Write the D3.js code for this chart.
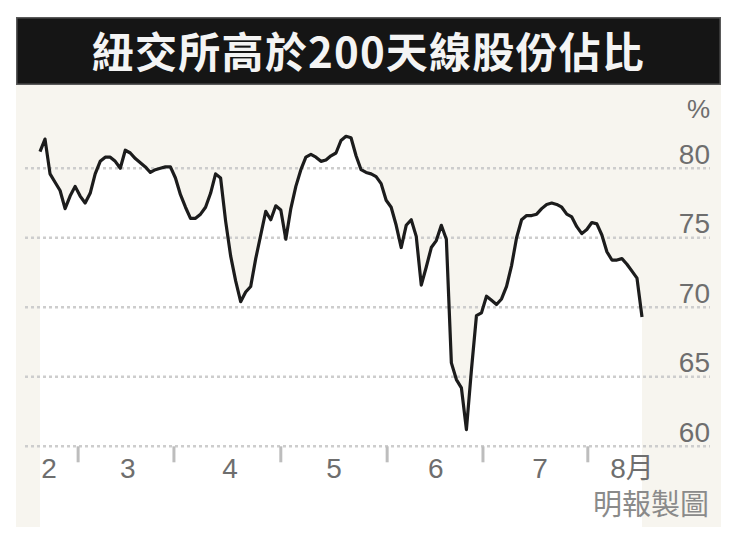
<!DOCTYPE html>
<html>
<head>
<meta charset="utf-8">
<script src="https://cdn.jsdelivr.net/npm/d3@7"></script>
<style>
  html, body { margin: 0; padding: 0; background: #ffffff; }
  svg { display: block; }
</style>
</head>
<body>
<svg id="chart" width="742" height="540"></svg>
<script>
// ---- data ----
const titleText = "紐交所高於200天線股份佔比";
const unitLabel = "%";
const sourceLabel = "明報製圖";
// share of NYSE stocks above their 200-day line (%), one value per trading day
const values = [
  81.2, 82.1, 79.6, 79.0, 78.4, 77.1, 78.0, 78.7, 78.0, 77.5,
  78.2, 79.6, 80.5, 80.8, 80.8, 80.5, 80.0, 81.3, 81.1, 80.7,
  80.4, 80.1, 79.7, 79.9, 80.0, 80.1, 80.1, 79.3, 78.1, 77.2,
  76.4, 76.4, 76.7, 77.2, 78.2, 79.6, 79.3, 76.2, 73.7, 71.9,
  70.4, 71.1, 71.5, 73.5, 75.2, 76.9, 76.3, 77.3, 77.0, 74.9,
  77.1, 78.7, 79.9, 80.8, 81.0, 80.8, 80.5, 80.6, 80.9, 81.1,
  82.0, 82.3, 82.2, 80.9, 79.9, 79.7, 79.6, 79.4, 78.9, 77.7,
  77.2, 75.9, 74.3, 75.9, 76.3, 75.1, 71.6, 72.9, 74.3, 74.8,
  75.9, 74.9, 66.0, 64.8, 64.2, 61.2, 65.5, 69.4, 69.6, 70.8,
  70.5, 70.2, 70.6, 71.5, 73.0, 75.0, 76.3, 76.6, 76.6, 76.7,
  77.1, 77.4, 77.5, 77.4, 77.2, 76.7, 76.5, 75.8, 75.3, 75.6,
  76.1, 76.0, 75.2, 74.0, 73.4, 73.4, 73.5, 73.1, 72.6, 72.1,
  69.3
];
// month boundaries (in trading-day index) and month label positions
const monthTicks = [7.6, 26.7, 48.0, 69.2, 88.3, 109.2];
const monthLabelPos = [1.8, 17.5, 37.9, 58.6, 78.9, 99.7, 118.0];
const monthLabels = ["2", "3", "4", "5", "6", "7", "8月"];
const yTicks = [60, 65, 70, 75, 80];

// ---- layout ----
const W = 742, H = 540;
const panel = { x: 16, y: 85, w: 705, h: 442 };
const bar = { x: 16, y: 17, w: 705, h: 68 };
const plot = { left: 40, right: 642, top: 168.3, bottom: 446.3 };
const gridX0 = 25, gridX1 = 710;

const svg = d3.select("#chart");

const x = d3.scaleLinear().domain([0, values.length - 1]).range([plot.left, plot.right]);
const y = d3.scaleLinear().domain([60, 80]).range([plot.bottom, plot.top]);

// background panel (cream)
svg.append("rect")
  .attr("x", panel.x).attr("y", panel.y)
  .attr("width", panel.w).attr("height", panel.h)
  .attr("fill", "#f7f5ef");

// title bar
svg.append("rect")
  .attr("x", bar.x + 0.75).attr("y", bar.y + 0.75)
  .attr("width", bar.w - 1.5).attr("height", bar.h - 1.5)
  .attr("fill", "#151515")
  .attr("stroke", "#5a5a5a").attr("stroke-width", 1.5);

svg.append("text")
  .attr("x", bar.x + bar.w / 2).attr("y", 68)
  .attr("text-anchor", "middle")
  .attr("font-family", "'Noto Sans CJK TC', 'Noto Sans CJK SC', sans-serif")
  .attr("font-weight", "bold")
  .attr("font-size", 42)
  .attr("letter-spacing", 1.2)
  .attr("fill", "#f4f4f4")
  .text(titleText);

// white area under the line
const area = d3.area()
  .x((d, i) => x(i))
  .y0(panel.y + panel.h)
  .y1(d => y(d));
svg.append("path")
  .datum(values)
  .attr("d", area)
  .attr("fill", "#ffffff");

// dotted gridlines
svg.append("g")
  .selectAll("line")
  .data(yTicks)
  .join("line")
  .attr("x1", gridX0).attr("x2", gridX1)
  .attr("y1", d => y(d)).attr("y2", d => y(d))
  .attr("stroke", "#cdcdcd")
  .attr("stroke-width", 2.5)
  .attr("stroke-dasharray", "3,3");

// y tick labels (right side)
svg.append("g")
  .selectAll("text")
  .data(yTicks)
  .join("text")
  .attr("x", 710)
  .attr("y", d => y(d) - 4.5)
  .attr("text-anchor", "end")
  .attr("font-family", "'Liberation Sans', Arial, sans-serif")
  .attr("font-size", 28)
  .attr("fill", "#6e6e6e")
  .text(d => d);

svg.append("text")
  .attr("x", 710).attr("y", 118)
  .attr("text-anchor", "end")
  .attr("font-family", "'Liberation Sans', Arial, sans-serif")
  .attr("font-size", 26)
  .attr("fill", "#6e6e6e")
  .text(unitLabel);

// month boundary ticks
svg.append("g")
  .selectAll("line")
  .data(monthTicks)
  .join("line")
  .attr("x1", d => x(d)).attr("x2", d => x(d))
  .attr("y1", plot.bottom).attr("y2", plot.bottom + 16)
  .attr("stroke", "#bdbdbd")
  .attr("stroke-width", 3);

// month labels
svg.append("g")
  .selectAll("text")
  .data(monthLabels)
  .join("text")
  .attr("x", (d, i) => x(monthLabelPos[i]))
  .attr("y", 478)
  .attr("text-anchor", "middle")
  .attr("font-family", "'Liberation Sans', 'Noto Sans CJK TC', sans-serif")
  .attr("font-size", 28)
  .attr("fill", "#6e6e6e")
  .text(d => d);

// source
svg.append("text")
  .attr("x", 709).attr("y", 515)
  .attr("text-anchor", "end")
  .attr("font-family", "'Noto Sans CJK TC', sans-serif")
  .attr("font-size", 29)
  .attr("fill", "#8a8a8a")
  .text(sourceLabel);

// the line
const line = d3.line()
  .x((d, i) => x(i))
  .y(d => y(d));
svg.append("path")
  .datum(values)
  .attr("d", line)
  .attr("fill", "none")
  .attr("stroke", "#1c1c1c")
  .attr("stroke-width", 3.2)
  .attr("stroke-linejoin", "round");
</script>
</body>
</html>
